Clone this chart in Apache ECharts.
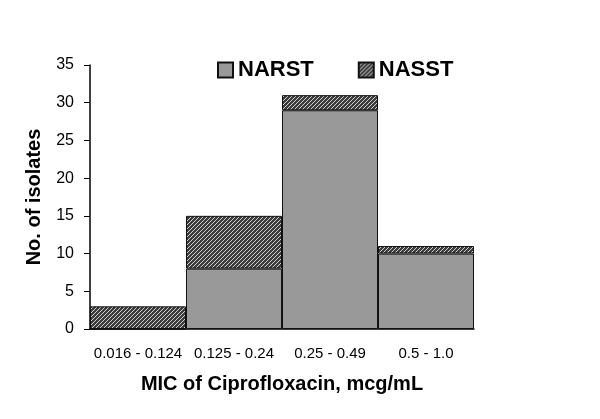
<!DOCTYPE html>
<html>
<head>
<meta charset="utf-8">
<script src="https://cdn.jsdelivr.net/npm/echarts@6/dist/echarts.min.js"></script>
<style>
  html, body { margin: 0; padding: 0; background: #fff; }
  #chart { width: 600px; height: 419px; }
</style>
</head>
<body>
<div id="chart"></div>
<script>
const categories = ['0.016 - 0.124', '0.125 - 0.24', '0.25 - 0.49', '0.5 - 1.0'];
const narst = [0, 8, 29, 10];
const nasst = [3, 7, 2, 1];
const yTicks = [0, 5, 10, 15, 20, 25, 30, 35];

// hatch tile for NASST
function hatch() {
  const c = document.createElement('canvas');
  c.width = 4; c.height = 4;
  const g = c.getContext('2d');
  g.fillStyle = '#3c3c3c';
  g.fillRect(0, 0, 4, 4);
  g.strokeStyle = '#d0d0d0';
  g.lineWidth = 1;
  g.beginPath();
  g.moveTo(0, 4); g.lineTo(4, 0);
  g.moveTo(-1, 1); g.lineTo(1, -1);
  g.moveTo(3, 5); g.lineTo(5, 3);
  g.stroke();
  return { image: c, repeat: 'repeat' };
}
const hatchFill = hatch();

const font = '"Liberation Sans", Arial, sans-serif';
const chart = echarts.init(document.getElementById('chart'), null, { renderer: 'canvas' });

chart.setOption({
  animation: false,
  textStyle: { fontFamily: font },
  legend: {
    top: 54,
    left: 212,
    itemGap: 44,
    itemWidth: 15,
    itemHeight: 15,
    icon: 'rect',
    textStyle: { fontSize: 22, fontWeight: 'bold', color: '#000', fontFamily: font },
    data: ['NARST', 'NASST']
  },
  grid: { left: 90, right: 126, top: 65, bottom: 90 },
  xAxis: {
    type: 'category',
    data: categories,
    name: 'MIC of Ciprofloxacin, mcg/mL',
    nameLocation: 'middle',
    nameGap: 45,
    nameTextStyle: { fontSize: 20, fontWeight: 'bold', color: '#000', fontFamily: font },
    axisLine: { lineStyle: { color: '#000', width: 1.5 } },
    axisTick: { show: false },
    axisLabel: { interval: 0, fontSize: 15, color: '#000', margin: 17, fontFamily: font }
  },
  yAxis: {
    type: 'value',
    min: 0,
    max: 35,
    interval: 5,
    name: 'No. of isolates',
    nameLocation: 'middle',
    nameGap: 46,
    nameTextStyle: { fontSize: 20, fontWeight: 'bold', color: '#000', fontFamily: font },
    axisLine: { show: true, lineStyle: { color: '#000', width: 1.5 } },
    axisTick: { show: true, length: 6, lineStyle: { color: '#000' } },
    splitLine: { show: false },
    axisLabel: {
      fontSize: 16, color: '#000', margin: 16, fontFamily: font,
      formatter: v => yTicks.includes(v) ? String(v) : ''
    }
  },
  series: [
    {
      name: 'NARST',
      type: 'bar',
      stack: 'total',
      data: narst,
      barCategoryGap: '0%',
      itemStyle: { color: '#999999', borderColor: '#111', borderWidth: 1 }
    },
    {
      name: 'NASST',
      type: 'bar',
      stack: 'total',
      data: nasst,
      barCategoryGap: '0%',
      itemStyle: { color: hatchFill, borderColor: '#111', borderWidth: 1 }
    }
  ]
});
</script>
</body>
</html>
